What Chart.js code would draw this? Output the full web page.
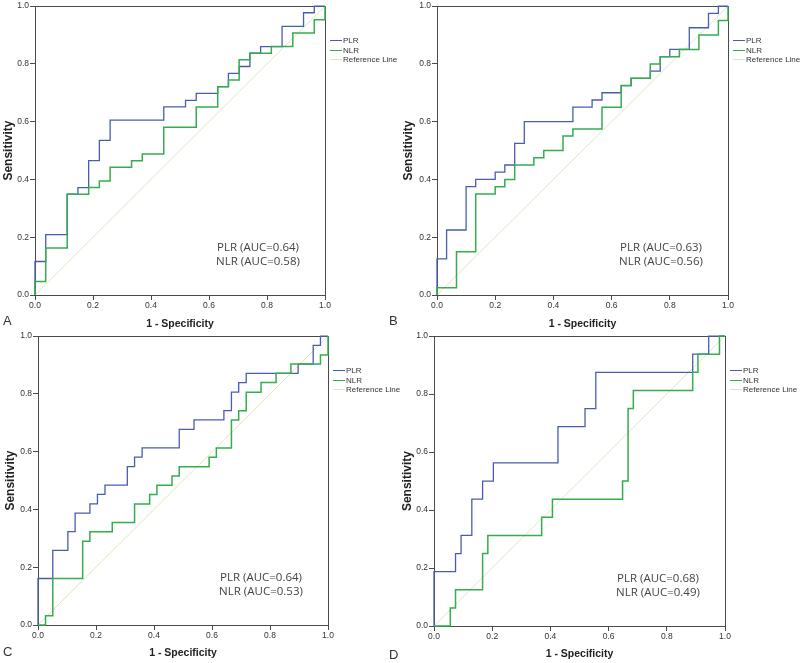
<!DOCTYPE html>
<html>
<head>
<meta charset="utf-8">
<script src="https://cdn.jsdelivr.net/npm/chart.js@4.4.1/dist/chart.umd.min.js"></script>
<style>
  body { margin: 0; background: #fff; }
  #fig { position: relative; width: 800px; height: 663px; overflow: hidden; background: #fff; }
  #fig canvas { position: absolute; }
  .tag { position: absolute; font: 13px "Liberation Sans", Arial, sans-serif; line-height: 13px; color: #333; }
</style>
</head>
<body>
<div id="fig">
  <canvas id="rocA" width="400" height="330" style="left:0;top:0"></canvas>
  <canvas id="rocB" width="405" height="330" style="left:395px;top:0"></canvas>
  <canvas id="rocC" width="400" height="333" style="left:0;top:330px"></canvas>
  <canvas id="rocD" width="405" height="333" style="left:395px;top:330px"></canvas>
  <div class="tag" style="left:3px;top:314px">A</div>
  <div class="tag" style="left:389px;top:314px">B</div>
  <div class="tag" style="left:3px;top:645px">C</div>
  <div class="tag" style="left:389px;top:648px">D</div>
</div>
<script>
/* ===== DATA (ROC coordinates: 1 - specificity, sensitivity) ===== */
const TICKS = [0, 0.2, 0.4, 0.6, 0.8, 1.0];
const refX = [0, 1];
const refY = [0, 1];

// A
const plrAx = [0, 0, 0.037, 0.037, 0.111, 0.111, 0.148, 0.148, 0.185, 0.185, 0.222, 0.222, 0.259, 0.259, 0.444, 0.444, 0.519, 0.519, 0.556, 0.556, 0.630, 0.630, 0.667, 0.667, 0.704, 0.704, 0.741, 0.741, 0.778, 0.778, 0.852, 0.852, 0.926, 0.926, 0.963, 0.963, 1];
const plrAy = [0, 0.116, 0.116, 0.209, 0.209, 0.349, 0.349, 0.372, 0.372, 0.465, 0.465, 0.535, 0.535, 0.605, 0.605, 0.651, 0.651, 0.674, 0.674, 0.698, 0.698, 0.721, 0.721, 0.767, 0.767, 0.791, 0.791, 0.837, 0.837, 0.860, 0.860, 0.930, 0.930, 0.977, 0.977, 1, 1];
const nlrAx = [0, 0, 0.037, 0.037, 0.111, 0.111, 0.185, 0.185, 0.222, 0.222, 0.259, 0.259, 0.333, 0.333, 0.370, 0.370, 0.444, 0.444, 0.556, 0.556, 0.630, 0.630, 0.667, 0.667, 0.704, 0.704, 0.741, 0.741, 0.815, 0.815, 0.889, 0.889, 0.963, 0.963, 1, 1];
const nlrAy = [0, 0.047, 0.047, 0.163, 0.163, 0.349, 0.349, 0.372, 0.372, 0.395, 0.395, 0.442, 0.442, 0.465, 0.465, 0.488, 0.488, 0.581, 0.581, 0.651, 0.651, 0.721, 0.721, 0.744, 0.744, 0.814, 0.814, 0.837, 0.837, 0.860, 0.860, 0.907, 0.907, 0.953, 0.953, 1];
const aucA = ["PLR (AUC=0.64)", "NLR (AUC=0.58)"];

// B
const plrBx = [0, 0, 0.033, 0.033, 0.1, 0.1, 0.133, 0.133, 0.2, 0.2, 0.233, 0.233, 0.267, 0.267, 0.3, 0.3, 0.467, 0.467, 0.533, 0.533, 0.567, 0.567, 0.633, 0.633, 0.667, 0.667, 0.733, 0.733, 0.767, 0.767, 0.8, 0.8, 0.867, 0.867, 0.933, 0.933, 0.967, 0.967, 1];
const plrBy = [0, 0.125, 0.125, 0.225, 0.225, 0.375, 0.375, 0.4, 0.4, 0.425, 0.425, 0.45, 0.45, 0.525, 0.525, 0.6, 0.6, 0.65, 0.65, 0.675, 0.675, 0.7, 0.7, 0.725, 0.725, 0.75, 0.75, 0.775, 0.775, 0.825, 0.825, 0.85, 0.85, 0.925, 0.925, 0.975, 0.975, 1, 1];
const nlrBx = [0, 0, 0.067, 0.067, 0.133, 0.133, 0.2, 0.2, 0.233, 0.233, 0.267, 0.267, 0.333, 0.333, 0.367, 0.367, 0.433, 0.433, 0.467, 0.467, 0.567, 0.567, 0.633, 0.633, 0.667, 0.667, 0.733, 0.733, 0.767, 0.767, 0.833, 0.833, 0.9, 0.9, 0.967, 0.967, 1, 1];
const nlrBy = [0, 0.025, 0.025, 0.15, 0.15, 0.35, 0.35, 0.375, 0.375, 0.4, 0.4, 0.45, 0.45, 0.475, 0.475, 0.5, 0.5, 0.55, 0.55, 0.575, 0.575, 0.65, 0.65, 0.725, 0.725, 0.75, 0.75, 0.8, 0.8, 0.825, 0.825, 0.85, 0.85, 0.9, 0.9, 0.95, 0.95, 1];
const aucB = ["PLR (AUC=0.63)", "NLR (AUC=0.56)"];

// C
const plrCx = [0, 0, 0.051, 0.051, 0.103, 0.103, 0.128, 0.128, 0.179, 0.179, 0.205, 0.205, 0.231, 0.231, 0.308, 0.308, 0.333, 0.333, 0.359, 0.359, 0.487, 0.487, 0.538, 0.538, 0.641, 0.641, 0.667, 0.667, 0.692, 0.692, 0.718, 0.718, 0.897, 0.897, 0.949, 0.949, 0.974, 0.974, 1];
const plrCy = [0, 0.161, 0.161, 0.258, 0.258, 0.323, 0.323, 0.387, 0.387, 0.419, 0.419, 0.452, 0.452, 0.484, 0.484, 0.548, 0.548, 0.581, 0.581, 0.613, 0.613, 0.677, 0.677, 0.710, 0.710, 0.742, 0.742, 0.806, 0.806, 0.839, 0.839, 0.871, 0.871, 0.903, 0.903, 0.968, 0.968, 1, 1];
const nlrCx = [0, 0.026, 0.026, 0.051, 0.051, 0.154, 0.154, 0.179, 0.179, 0.256, 0.256, 0.333, 0.333, 0.385, 0.385, 0.410, 0.410, 0.462, 0.462, 0.487, 0.487, 0.590, 0.590, 0.615, 0.615, 0.667, 0.667, 0.692, 0.692, 0.718, 0.718, 0.769, 0.769, 0.821, 0.821, 0.872, 0.872, 0.974, 0.974, 1, 1];
const nlrCy = [0, 0, 0.032, 0.032, 0.161, 0.161, 0.290, 0.290, 0.323, 0.323, 0.355, 0.355, 0.419, 0.419, 0.452, 0.452, 0.484, 0.484, 0.516, 0.516, 0.548, 0.548, 0.581, 0.581, 0.613, 0.613, 0.710, 0.710, 0.742, 0.742, 0.806, 0.806, 0.839, 0.839, 0.871, 0.871, 0.903, 0.903, 0.935, 0.935, 1];
const aucC = ["PLR (AUC=0.64)", "NLR (AUC=0.53)"];

// D
const plrDx = [0, 0, 0.074, 0.074, 0.093, 0.093, 0.130, 0.130, 0.167, 0.167, 0.204, 0.204, 0.426, 0.426, 0.519, 0.519, 0.556, 0.556, 0.889, 0.889, 0.944, 0.944, 1];
const plrDy = [0, 0.1875, 0.1875, 0.25, 0.25, 0.3125, 0.3125, 0.4375, 0.4375, 0.5, 0.5, 0.5625, 0.5625, 0.6875, 0.6875, 0.75, 0.75, 0.875, 0.875, 0.9375, 0.9375, 1, 1];
const nlrDx = [0, 0.056, 0.056, 0.074, 0.074, 0.167, 0.167, 0.185, 0.185, 0.370, 0.370, 0.407, 0.407, 0.648, 0.648, 0.667, 0.667, 0.685, 0.685, 0.889, 0.889, 0.907, 0.907, 0.981, 0.981, 1];
const nlrDy = [0, 0, 0.0625, 0.0625, 0.125, 0.125, 0.25, 0.25, 0.3125, 0.3125, 0.375, 0.375, 0.4375, 0.4375, 0.5, 0.5, 0.75, 0.75, 0.8125, 0.8125, 0.875, 0.875, 0.9375, 0.9375, 1, 1];
const aucD = ["PLR (AUC=0.68)", "NLR (AUC=0.49)"];

/* ===== STYLE ===== */
const BLUE = "#4a5cad";
const GREEN = "#35ad4f";
const REF = "#dfe6bb";
const AXIS = "#4a4a4a";

Chart.defaults.font.family = '"Liberation Sans", Arial, sans-serif';
Chart.defaults.color = "#333";

/* ===== HELPERS ===== */
function pts(xs, ys) {
  return xs.map((x, i) => ({ x, y: ys[i] }));
}

// frame, legend and AUC notes
const rocDecor = {
  id: "rocDecor",
  beforeDatasetsDraw(chart) {
    const { ctx, chartArea: a } = chart;
    ctx.save();
    ctx.strokeStyle = AXIS;
    ctx.lineWidth = 1;
    ctx.strokeRect(Math.round(a.left) + 0.5, Math.round(a.top) + 0.5,
      Math.round(a.right - a.left), Math.round(a.bottom - a.top));
    ctx.restore();
  },
  afterDraw(chart, args, opts) {
    const { ctx, chartArea: a } = chart;
    ctx.save();
    ctx.font = '8px "Liberation Sans", Arial, sans-serif';
    ctx.textBaseline = "middle";
    chart.data.datasets.forEach((ds, i) => {
      const y = Math.round(a.top + 34 + i * 9.5) + 0.5;
      ctx.strokeStyle = ds.borderColor;
      ctx.lineWidth = 1;
      ctx.beginPath();
      ctx.moveTo(a.right + 5, y);
      ctx.lineTo(a.right + 17, y);
      ctx.stroke();
      ctx.fillStyle = "#333";
      ctx.fillText(ds.label, a.right + 18, y);
    });
    ctx.font = '11.5px "Open Sans", sans-serif';
    ctx.textAlign = "center";
    ctx.fillStyle = "#444";
    opts.lines.forEach((t, i) => ctx.fillText(t, a.right - 67, a.bottom - 47 + i * 14));
    ctx.restore();
  },
};

function axis(title, titleFont, titlePad, fixSize, isY) {
  return {
    type: "linear",
    min: 0,
    max: 1,
    afterBuildTicks: (s) => { s.ticks = TICKS.map((v) => ({ value: v })); },
    afterFit: (s) => { if (isY) s.width = fixSize; else s.height = fixSize; },
    grid: { drawOnChartArea: false, drawTicks: true, tickLength: 5, color: AXIS },
    border: { display: true, color: AXIS, width: 1 },
    ticks: {
      font: { size: 8.5 },
      color: "#333",
      padding: 1,
      maxRotation: 0,
      callback: (v) => Number(v).toFixed(1),
    },
    title: {
      display: true,
      text: title,
      font: { size: titleFont, weight: "bold" },
      color: "#222",
      padding: isY ? { top: titlePad, bottom: 0 } : { top: 0, bottom: titlePad },
    },
  };
}

function makeRoc(id, plrX, plrY, nlrX, nlrY, auc, box) {
  return new Chart(document.getElementById(id), {
    type: "line",
    data: {
      datasets: [
        { label: "PLR", data: pts(plrX, plrY), borderColor: BLUE, borderWidth: 1.3, order: 1 },
        { label: "NLR", data: pts(nlrX, nlrY), borderColor: GREEN, borderWidth: 1.5, order: 0 },
        { label: "Reference Line", data: pts(refX, refY), borderColor: REF, borderWidth: 1, order: 2 },
      ],
    },
    options: {
      responsive: false,
      animation: false,
      devicePixelRatio: 1,
      parsing: false,
      layout: { padding: { left: 0, top: box.padTop, right: box.padRight, bottom: 0 } },
      elements: { point: { radius: 0 }, line: { tension: 0 } },
      datasets: { line: { clip: false } },
      scales: {
        x: axis("1 - Specificity", 10.5, box.xTitlePad, box.xHeight, false),
        y: axis("Sensitivity", 12, box.yTitlePad, box.yWidth, true),
      },
      plugins: {
        legend: { display: false },
        tooltip: { enabled: false },
        rocDecor: { lines: auc },
      },
    },
    plugins: [rocDecor],
  });
}

/* ===== CHARTS ===== */
makeRoc("rocA", plrAx, plrAy, nlrAx, nlrAy, aucA,
  { yWidth: 35, xHeight: 35, padTop: 5, padRight: 75, yTitlePad: 1.5, xTitlePad: 0 });
makeRoc("rocB", plrBx, plrBy, nlrBx, nlrBy, aucB,
  { yWidth: 42, xHeight: 35, padTop: 5, padRight: 72, yTitlePad: 6.5, xTitlePad: 0 });
makeRoc("rocC", plrCx, plrCy, nlrCx, nlrCy, aucC,
  { yWidth: 38, xHeight: 38, padTop: 6, padRight: 72, yTitlePad: 3.5, xTitlePad: 3.5 });
makeRoc("rocD", plrDx, plrDy, nlrDx, nlrDy, aucD,
  { yWidth: 39, xHeight: 37, padTop: 5, padRight: 75, yTitlePad: 5, xTitlePad: 3 });
</script>
</body>
</html>
